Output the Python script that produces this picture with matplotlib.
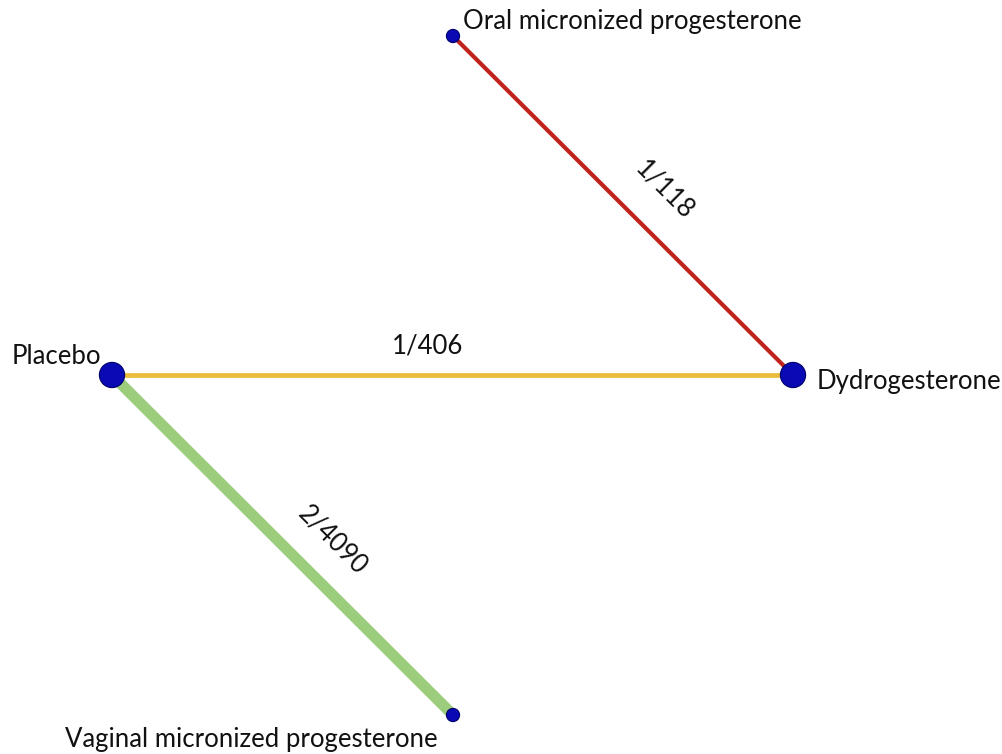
import matplotlib.pyplot as plt

plt.rcParams['font.family'] = ['Lato', 'DejaVu Sans']

# network layout (pixel-like layout coordinates)
nodes = ["Oral micronized progesterone", "Dydrogesterone", "Placebo",
         "Vaginal micronized progesterone"]
node_x = [453, 793, 112, 453]
node_y = [36, 375, 375, 715]
node_size = [90, 330, 330, 90]

edge_from = [0, 2, 2]
edge_to = [1, 1, 3]
edge_studies = [1, 1, 2]
edge_patients = [118, 406, 4090]
edge_colors = ["#c0221c", "#ebbb3c", "#9ccd7c"]
edge_width = [3.0, 3.4, 8.0]

label_x = [463, 817, 12, 65]
label_y = [22, 381, 356, 740]

edge_lab_x = [665, 428, 333]
edge_lab_y = [190, 346, 540]
edge_lab_rot = [-45, 0, -45]

fig = plt.figure(figsize=(10.03, 7.54), dpi=100)
ax = fig.add_axes([0, 0, 1, 1])
ax.set_xlim(0, 1003)
ax.set_ylim(754, 0)
ax.axis("off")

for i in range(len(edge_from)):
    a, b = edge_from[i], edge_to[i]
    ax.plot([node_x[a], node_x[b]], [node_y[a], node_y[b]],
            color=edge_colors[i], lw=edge_width[i], solid_capstyle="butt",
            zorder=1)
    ax.text(edge_lab_x[i], edge_lab_y[i],
            f"{edge_studies[i]}/{edge_patients[i]}",
            rotation=edge_lab_rot[i], rotation_mode="anchor",
            ha="center", va="center", fontsize=18.5, color="#111111")

ax.scatter(node_x, node_y, s=node_size, color="#0a0ab4",
           edgecolors="#00006a", linewidths=0.8, zorder=3)

for i, name in enumerate(nodes):
    ax.text(label_x[i], label_y[i], name, ha="left", va="center",
            fontsize=18.5, color="#111111")

fig.savefig("out.png", dpi=100)
